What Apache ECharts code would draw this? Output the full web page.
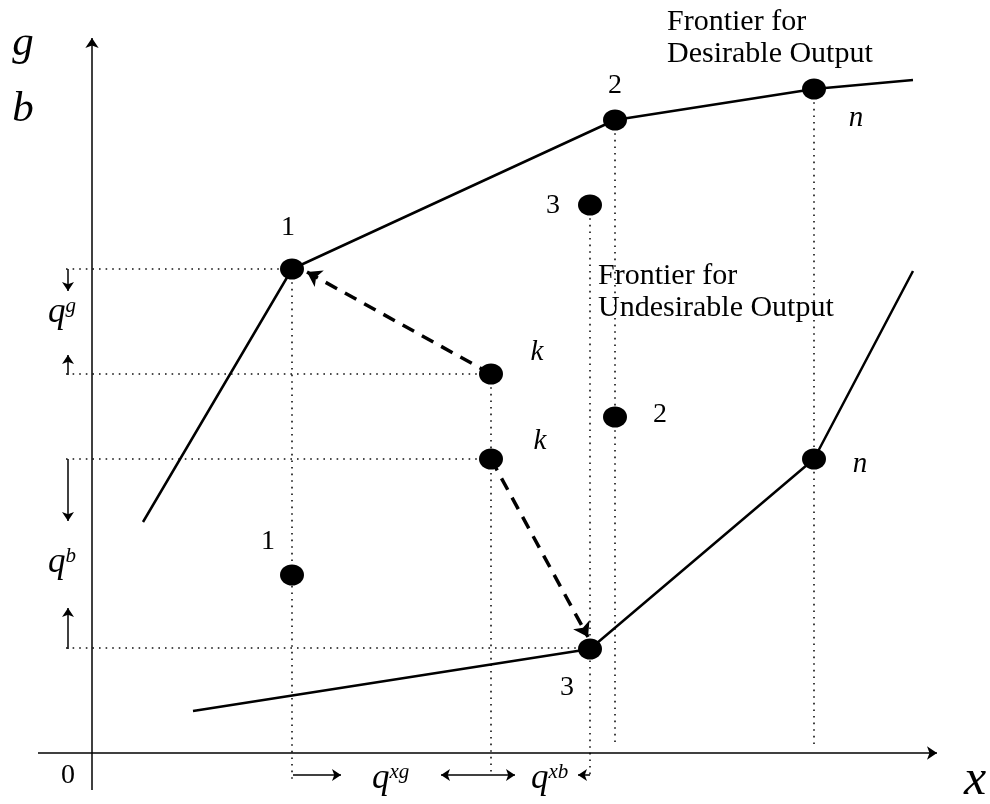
<!DOCTYPE html>
<html>
<head>
<meta charset="utf-8">
<script src="https://cdn.jsdelivr.net/npm/echarts@6/dist/echarts.min.js"></script>
<style>html,body{margin:0;padding:0;background:#fff;}#c{width:990px;height:804px;}</style>
</head>
<body>
<div id="c"></div>
<script>
// Conceptual diagram: coordinates relative to origin of the x / (g,b) axes
var desirablePoints = [[200, 484, '1'], [523, 633, '2'], [722, 664, 'n'], [498, 548, '3'], [399, 379, 'k']];
var undesirablePoints = [[399, 294, 'k'], [523, 336, '2'], [722, 294, 'n'], [498, 104, '3'], [200, 178, '1']];
var desirableFrontier = [[51, 231], [200, 484], [523, 633], [722, 664], [821, 673]];
var undesirableFrontier = [[101, 42], [498, 104], [722, 294], [821, 482]];
var axisSegments = [[[0, -37], [0, 715]], [[-54, 0], [845, 0]]];
var guideSegments = [
  [[-26, 484], [200, 484]], [[-26, 379], [399, 379]], [[-26, 294], [399, 294]], [[-26, 105], [498, 105]],
  [[200, 484], [200, -26]], [[399, 379], [399, -22]], [[498, 548], [498, -22]], [[523, 633], [523, 7]], [[722, 664], [722, 5]]
];
var projectionArrows = [[[399, 379], [215, 481]], [[399, 294], [496, 116]]];
var measureArrows = [
  [[-24, 484], [-24, 462]], [[-24, 378], [-24, 398]], [[-24, 294], [-24, 232]], [[-24, 104], [-24, 145]],
  [[201, -22], [249, -22]], [[399, -22], [349, -22]], [[399, -22], [423, -22]], [[498, -22], [486, -22]]
];
// [text, x, y, style]
var textLabels = [
  ['1', 196, 525, 'num'], ['2', 523, 667, 'num'], ['n', 764, 635, 'it'], ['3', 461, 547, 'num'], ['k', 445, 401, 'it'],
  ['k', 448, 312, 'it'], ['2', 568, 338, 'num'], ['n', 768, 289, 'it'], ['3', 475, 65, 'num'], ['1', 176, 211, 'num'],
  ['0', -24, -23, 'num'], ['g', -69, 709, 'big'], ['b', -69, 643, 'big'], ['x', 883, -28, 'xbig'],
  ['{q|q}{s|g}', -44, 440, 'q'], ['{q|q}{s|b}', -44, 190, 'q'], ['{q|q}{s|xg}', 280, -26, 'q'], ['{q|q}{s|xb}', 439, -26, 'q'],
  ['Frontier for\nDesirable Output', 575, 747, 'title'], ['Frontier for\nUndesirable Output', 506, 493, 'title']
];

var serif = 'Liberation Serif';
var styles = {
  num: {fontSize: 28, fontFamily: serif, color: '#000'},
  it: {fontSize: 29, fontFamily: serif, fontStyle: 'italic', color: '#000'},
  big: {fontSize: 43, fontFamily: serif, fontStyle: 'italic', color: '#000'},
  xbig: {fontSize: 50, fontFamily: serif, fontStyle: 'italic', color: '#000'},
  q: {align: 'left', rich: {
    q: {fontSize: 35, fontFamily: serif, fontStyle: 'italic', color: '#000', verticalAlign: 'bottom', lineHeight: 34},
    s: {fontSize: 21, fontFamily: serif, fontStyle: 'italic', color: '#000', verticalAlign: 'top', lineHeight: 34, padding: [0, 0, 18, 0]}
  }},
  title: {fontSize: 30, fontFamily: serif, color: '#000', align: 'left', verticalAlign: 'top', lineHeight: 32}
};

function seg(list) { return list.map(function (s) { return {coords: s}; }); }

var chart = echarts.init(document.getElementById('c'), null, {renderer: 'canvas'});
chart.setOption({
  animation: false,
  backgroundColor: '#fff',
  grid: {left: 0, right: 0, top: 0, bottom: 0},
  xAxis: {type: 'value', min: -92, max: 898, show: false},
  yAxis: {type: 'value', min: -51, max: 753, show: false},
  series: [
    {type: 'lines', coordinateSystem: 'cartesian2d', data: seg(axisSegments), symbol: ['none', 'arrow'], symbolSize: [8, 10],
      lineStyle: {color: '#000', width: 1.5, opacity: 1}, silent: true, z: 2},
    {type: 'lines', coordinateSystem: 'cartesian2d', data: seg(guideSegments), symbol: 'none',
      lineStyle: {color: '#111', width: 1.6, type: [1.6, 5], opacity: 1}, silent: true, z: 1},
    {type: 'line', data: desirableFrontier, symbol: 'none', lineStyle: {color: '#000', width: 2.5}, silent: true, z: 3},
    {type: 'line', data: undesirableFrontier, symbol: 'none', lineStyle: {color: '#000', width: 2.5}, silent: true, z: 3},
    {type: 'lines', coordinateSystem: 'cartesian2d', data: seg(projectionArrows), symbol: ['none', 'arrow'], symbolSize: [12, 14],
      lineStyle: {color: '#000', width: 3.5, type: [13, 9], opacity: 1}, silent: true, z: 4},
    {type: 'lines', coordinateSystem: 'cartesian2d', data: seg(measureArrows), symbol: ['none', 'arrow'], symbolSize: [7, 9],
      lineStyle: {color: '#000', width: 1.5, opacity: 1}, silent: true, z: 4},
    {type: 'scatter', name: 'Desirable', data: desirablePoints.map(function (p) { return [p[0], p[1]]; }),
      symbol: 'circle', symbolSize: [24, 21], itemStyle: {color: '#000', opacity: 1}, silent: true, z: 5},
    {type: 'scatter', name: 'Undesirable', data: undesirablePoints.map(function (p) { return [p[0], p[1]]; }),
      symbol: 'circle', symbolSize: [24, 21], itemStyle: {color: '#000', opacity: 1}, silent: true, z: 5},
    {type: 'scatter', name: 'labels', symbolSize: 1, itemStyle: {color: '#fff', opacity: 1}, silent: true, z: 6,
      data: textLabels.map(function (t) {
        var st = Object.assign({show: true, position: 'inside', formatter: t[0], opacity: 1}, styles[t[3]]);
        return {value: [t[1], t[2]], label: st};
      })}
  ]
});
</script>
</body>
</html>
